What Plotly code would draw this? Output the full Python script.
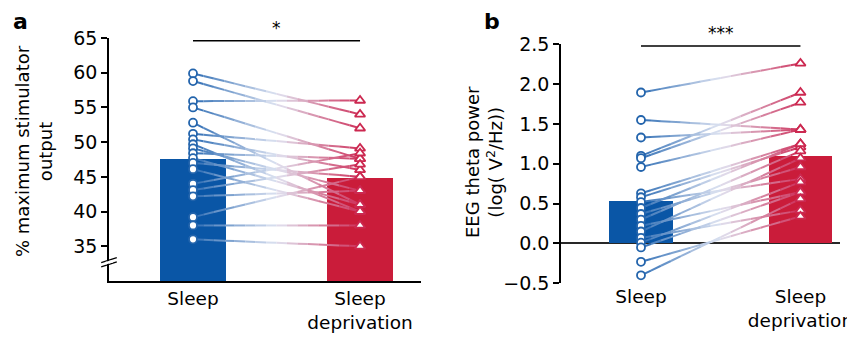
import plotly.graph_objects as go

# ---------------- data ----------------
categories = ["Sleep", "Sleep<br>deprivation"]

# panel a: % maximum stimulator output
a_bar_means = [47.6, 44.9]
a_sleep = [59.9, 58.8, 55.9, 55.0, 52.8, 51.2, 50.4, 49.7, 49.1, 48.4,
           47.7, 47.0, 46.1, 44.0, 43.1, 42.2, 39.2, 38.0, 36.0]
a_sd = [54.0, 52.0, 56.0, 47.6, 41.0, 49.1, 46.0, 40.0, 43.0, 47.6,
        41.0, 45.0, 40.0, 48.4, 46.8, 43.0, 45.0, 38.0, 35.0]
a_ticks = [35, 40, 45, 50, 55, 60, 65]

# panel b: EEG theta power
b_bar_means = [0.53, 1.09]
b_sleep = [1.895, 1.55, 1.33, 1.10, 1.07, 0.96, 0.63, 0.58, 0.52, 0.445,
           0.37, 0.30, 0.22, 0.15, 0.07, 0.01, -0.05, -0.23, -0.40]
b_sd = [2.26, 1.43, 1.43, 1.895, 1.77, 1.43, 1.25, 1.21, 0.81, 1.25,
        0.96, 1.16, 0.645, 1.07, 0.415, 0.77, 0.645, 0.34, 0.56]
b_ticks = [-0.5, 0.0, 0.5, 1.0, 1.5, 2.0, 2.5]
b_ticktext = ["\u22120.5", "0.0", "0.5", "1.0", "1.5", "2.0", "2.5"]

# ---------------- style ----------------
FONT = "DejaVu Sans"
BLUE_BAR = "rgb(10,86,166)"
RED_BAR = "rgb(202,28,58)"
BLUE_MK = "rgb(35,100,172)"
RED_MK = "rgb(204,40,80)"
C_LEFT = (50, 112, 182)
C_MID = (224, 228, 242)
C_RIGHT = (206, 50, 92)
NSEG = 16

# the page body adds an 8 px offset; size the figure so it fills the window
OFF = 8
W, H = 855 - OFF, 339 - OFF

def fx(px):
    return (px - OFF) / W

def fy(py):
    return 1 - (py - OFF) / H

def grad_color(t):
    if t < 0.5:
        u = t / 0.5
        c = [C_LEFT[i] + (C_MID[i] - C_LEFT[i]) * u for i in range(3)]
    else:
        u = (t - 0.5) / 0.5
        c = [C_MID[i] + (C_RIGHT[i] - C_MID[i]) * u for i in range(3)]
    return "rgb(%d,%d,%d)" % tuple(int(round(v)) for v in c)

fig = go.Figure()

def add_panel(xa, ya, means, left, right):
    fig.add_trace(go.Bar(x=[0, 1], y=means, width=0.40,
                         marker=dict(color=[BLUE_BAR, RED_BAR], line=dict(width=0)),
                         xaxis=xa, yaxis=ya, showlegend=False, hoverinfo="skip"))
    # gradient connecting lines, drawn as short pieces of each straight line
    for k in range(NSEG):
        t0, t1 = k / NSEG, (k + 1) / NSEG
        xs, ys = [], []
        for s, d in zip(left, right):
            xs += [t0, t1, None]
            ys += [s + (d - s) * t0, s + (d - s) * t1, None]
        fig.add_trace(go.Scatter(x=xs, y=ys, mode="lines",
                                 line=dict(color=grad_color((t0 + t1) / 2), width=2),
                                 xaxis=xa, yaxis=ya, showlegend=False,
                                 hoverinfo="skip", cliponaxis=False))
    fig.add_trace(go.Scatter(x=[0] * len(left), y=left, mode="markers",
                             marker=dict(symbol="circle", size=8, color="white",
                                         line=dict(color=BLUE_MK, width=1.8)),
                             xaxis=xa, yaxis=ya, showlegend=False, cliponaxis=False))
    fig.add_trace(go.Scatter(x=[1] * len(right), y=right, mode="markers",
                             marker=dict(symbol="triangle-up", size=9, color="white",
                                         line=dict(color=RED_MK, width=1.8)),
                             xaxis=xa, yaxis=ya, showlegend=False, cliponaxis=False))

add_panel("x", "y", a_bar_means, a_sleep, a_sd)
add_panel("x2", "y2", b_bar_means, b_sleep, b_sd)

ytickfont = dict(family=FONT, size=19, color="black")
xtickfont = dict(family=FONT, size=18.5, color="black")
fig.update_layout(
    width=W, height=H,
    margin=dict(l=0, r=0, t=0, b=0, autoexpand=False),
    paper_bgcolor="white", plot_bgcolor="white",
    bargap=0,
    font=dict(family=FONT, color="black"),
    xaxis=dict(domain=[fx(109), fx(421)], range=[-0.503, 1.365], anchor="y",
               tickvals=[0, 1], ticktext=categories, tickfont=xtickfont,
               showline=True, linecolor="black", linewidth=1.5, automargin=False,
               ticks="", showgrid=False, zeroline=False, fixedrange=True),
    yaxis=dict(domain=[fy(281), fy(38)], range=[30, 65], anchor="x",
               tickvals=a_ticks, tickfont=ytickfont, automargin=False,
               showline=True, linecolor="black", linewidth=1.5,
               ticks="outside", ticklen=6, tickwidth=1.5, tickcolor="black",
               showgrid=False, zeroline=False, fixedrange=True),
    xaxis2=dict(domain=[fx(561), fx(840)], range=[-0.5016, 1.248], anchor="y2",
                tickvals=[0, 1], ticktext=categories, tickfont=xtickfont,
                showline=False, ticks="", showgrid=False, zeroline=False,
                automargin=False, fixedrange=True),
    yaxis2=dict(domain=[fy(283.3), fy(44.3)], range=[-0.5, 2.5], anchor="x2",
                tickvals=b_ticks, ticktext=b_ticktext, tickfont=ytickfont,
                showline=True, linecolor="black", linewidth=1.5, automargin=False,
                ticks="outside", ticklen=6, tickwidth=1.5, tickcolor="black",
                showgrid=False, zeroline=True, zerolinecolor="rgb(40,40,40)",
                zerolinewidth=1.5, fixedrange=True),
)

# axis break marks on panel a
for yb in (32.4, 33.0):
    fig.add_shape(type="line", xref="x domain", yref="y",
                  x0=-0.025, x1=0.025, y0=yb - 0.35, y1=yb + 0.35,
                  line=dict(color="black", width=1.3))
fig.add_shape(type="line", xref="x domain", yref="y",
              x0=-0.012, x1=0.012, y0=32.55, y1=32.85,
              line=dict(color="white", width=2.5))

# significance brackets
fig.add_shape(type="line", xref="x", yref="y", x0=0, x1=1, y0=64.6, y1=64.6,
              line=dict(color="black", width=1.5))
fig.add_annotation(x=0.5, y=64.6, xref="x", yref="y", text="*", showarrow=False,
                   yshift=13, font=dict(family=FONT, size=17, color="black"))
fig.add_shape(type="line", xref="x2", yref="y2", x0=0, x1=1, y0=2.48, y1=2.48,
              line=dict(color="black", width=1.5))
fig.add_annotation(x=0.5, y=2.48, xref="x2", yref="y2", text="***", showarrow=False,
                   yshift=13, font=dict(family=FONT, size=17, color="black"))

# y-axis titles
fig.add_annotation(x=fx(34), y=fy(151), xref="paper", yref="paper",
                   xanchor="center", yanchor="middle",
                   text="% maximum stimulator<br>output", textangle=-90,
                   showarrow=False, font=dict(family=FONT, size=18, color="black"))
fig.add_annotation(x=fx(484), y=fy(162), xref="paper", yref="paper",
                   xanchor="center", yanchor="middle",
                   text="EEG theta power<br>(log( V<sup>2</sup>/Hz))", textangle=-90,
                   showarrow=False, font=dict(family=FONT, size=18, color="black"))

# panel letters
fig.add_annotation(x=fx(20), y=fy(21), xref="paper", yref="paper", text="<b>a</b>",
                   xanchor="center", yanchor="middle",
                   showarrow=False, font=dict(family=FONT, size=22, color="black"))
fig.add_annotation(x=fx(492), y=fy(21), xref="paper", yref="paper", text="<b>b</b>",
                   xanchor="center", yanchor="middle",
                   showarrow=False, font=dict(family=FONT, size=22, color="black"))

fig.write_html("out.html")
